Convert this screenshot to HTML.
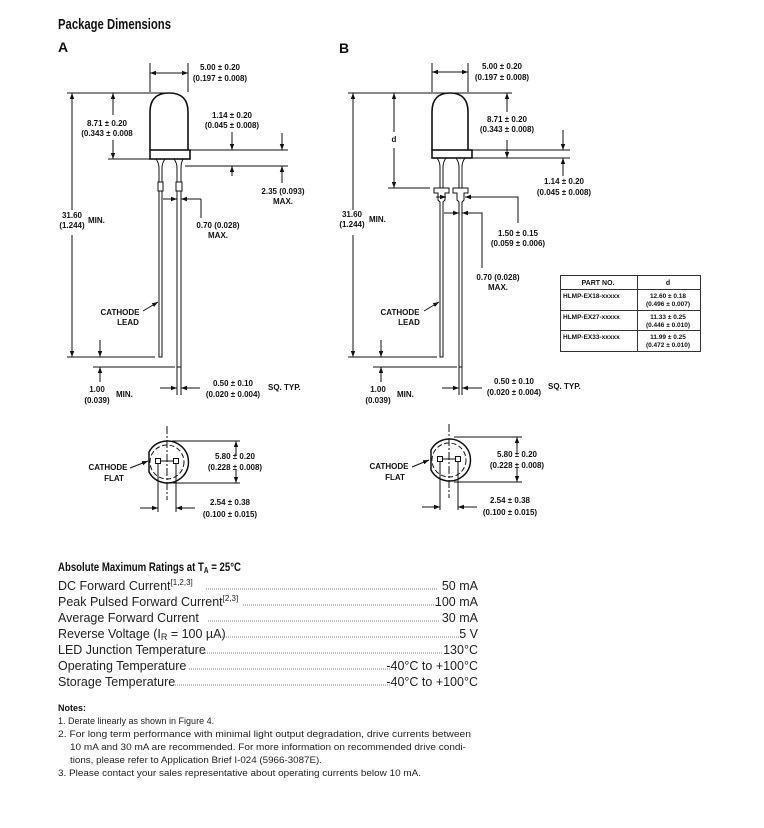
<!DOCTYPE html>
<html><head><meta charset="utf-8"><style>
html,body{margin:0;padding:0;background:#fff;}
svg{display:block}
text{font-family:"Liberation Sans Narrow","Liberation Sans",sans-serif;fill:#111}
.b{font-weight:bold;font-size:8px}
.r{font-family:"Liberation Sans",sans-serif;font-size:12.5px;fill:#222}
.n{font-family:"Liberation Sans",sans-serif;font-size:9px;fill:#222}
</style></head><body>
<svg width="764" height="828" viewBox="0 0 764 828" xmlns="http://www.w3.org/2000/svg">
<defs>
<marker id="a" markerWidth="6" markerHeight="6" refX="6" refY="3" orient="auto" markerUnits="userSpaceOnUse"><path d="M0,0.8 L6,3 L0,5.2z" fill="#111"/></marker>
</defs>
<text x="58" y="29" font-weight="bold" font-size="15" textLength="113" lengthAdjust="spacingAndGlyphs">Package Dimensions</text>
<text x="58" y="52" font-weight="bold" font-size="14">A</text>
<text x="339" y="53" font-weight="bold" font-size="14">B</text>

<g stroke="#111" stroke-width="1" fill="none">
<!-- ===== A ===== -->
<path d="M150,150 L150,112 Q150,93 169,93 Q188,93 188,112 L188,150" stroke-width="1.6"/>
<rect x="150" y="150" width="40" height="9" stroke-width="1.6"/>
<path d="M156,159 Q159,163 159,168 L159,182 M165,159 Q162,163 162,168 L162,182"/>
<rect x="158" y="182" width="5" height="9"/>
<path d="M159,191 L159,357 L162,357 L162,191"/>
<path d="M174,159 Q177,163 177,168 L177,182 M183,159 Q181,163 181,168 L181,182"/>
<rect x="176" y="182" width="6" height="9"/>
<path d="M177,191 L177,367 L181,367 L181,191"/>
<!-- ext lines -->
<path d="M150,63 L150,92 M188,63 L188,92"/>
<line x1="67" y1="93" x2="165" y2="93"/>
<line x1="67" y1="357" x2="155" y2="357"/>
<line x1="108" y1="159" x2="150" y2="159"/>
<line x1="190" y1="150" x2="288" y2="150"/>
<line x1="185" y1="166" x2="288" y2="166"/>
<line x1="93" y1="367" x2="175" y2="367"/>
<path d="M177,367 L177,395 M181,367 L181,395"/>
</g>
<g stroke="#111" stroke-width="1" fill="none" marker-end="url(#a)">
<line x1="169" y1="73" x2="150" y2="73"/><line x1="169" y1="73" x2="188" y2="73"/>
<line x1="72" y1="210" x2="72" y2="93"/><line x1="72" y1="235" x2="72" y2="357"/>
<line x1="113" y1="115" x2="113" y2="93"/><line x1="113" y1="140" x2="113" y2="159"/>
<line x1="232" y1="132" x2="232" y2="150"/><line x1="232" y1="176" x2="232" y2="166"/>
<line x1="282" y1="133" x2="282" y2="150"/><line x1="282" y1="183" x2="282" y2="166"/>
<line x1="163" y1="199" x2="177" y2="199"/><line x1="201" y1="199" x2="181" y2="199"/>
<line x1="100" y1="340" x2="100" y2="357"/><line x1="100" y1="382" x2="100" y2="367"/>
<line x1="160" y1="388" x2="177" y2="388"/><line x1="200" y1="388" x2="181" y2="388"/>
<line x1="143" y1="311" x2="158" y2="302"/>
</g>
<line x1="201" y1="199" x2="201" y2="218" stroke="#111"/>

<!-- ===== B ===== -->
<g stroke="#111" stroke-width="1" fill="none">
<path d="M432,150 L432,112 Q432,93 450,93 Q468,93 468,112 L468,150" stroke-width="1.6"/>
<rect x="432" y="150" width="40" height="8" stroke-width="1.6"/>
<path d="M437,158 Q440,162 440,167 L440,188 M446,158 Q443,162 443,167 L443,188"/>
<path d="M456,158 Q459,162 459,167 L459,188 M465,158 Q462,162 462,167 L462,188"/>
<path d="M434,188 L449,188 L449,193 L445,193 L445,200 L443,202 L443,357 L440,357 L440,202 L438,200 L438,193 L434,193 Z"/>
<path d="M453,188 L468,188 L468,193 L464,193 L464,200 L462,202 L462,367 L459,367 L459,202 L457,200 L457,193 L453,193 Z"/>
<path d="M432,63 L432,92 M468,63 L468,92"/>
<line x1="348" y1="93" x2="512" y2="93"/>
<line x1="348" y1="357" x2="437" y2="357"/>
<line x1="388" y1="188" x2="430" y2="188"/>
<line x1="472" y1="150" x2="570" y2="150"/>
<line x1="472" y1="158" x2="570" y2="158"/>
<line x1="373" y1="367" x2="457" y2="367"/>
<path d="M459,367 L459,395 M462,367 L462,395"/>
<path d="M470,197 L518,197 L518,223"/>
<path d="M466,213 L482,213 L482,268"/>
</g>
<g stroke="#111" stroke-width="1" fill="none" marker-end="url(#a)">
<line x1="450" y1="72" x2="432" y2="72"/><line x1="450" y1="72" x2="468" y2="72"/>
<line x1="353" y1="210" x2="353" y2="93"/><line x1="353" y1="235" x2="353" y2="357"/>
<line x1="394" y1="132" x2="394" y2="93"/><line x1="394" y1="148" x2="394" y2="188"/>
<line x1="507" y1="112" x2="507" y2="93"/><line x1="507" y1="140" x2="507" y2="158"/>
<line x1="563" y1="130" x2="563" y2="150"/><line x1="563" y1="176" x2="563" y2="158"/>
<line x1="436" y1="197" x2="446" y2="197"/><line x1="470" y1="197" x2="465" y2="197"/>
<line x1="444" y1="213" x2="459" y2="213"/><line x1="466" y1="213" x2="462" y2="213"/>
<line x1="381" y1="340" x2="381" y2="357"/><line x1="381" y1="382" x2="381" y2="367"/>
<line x1="442" y1="388" x2="459" y2="388"/><line x1="482" y1="388" x2="462" y2="388"/>
<line x1="424" y1="311" x2="439" y2="302"/>
</g>

<!-- bottom views -->
<g stroke="#111" stroke-width="1" fill="none">
<path d="M149,452 A21,21 0 1 1 149,472 Z" stroke-width="1.5"/>
<circle cx="167" cy="462" r="17" stroke-dasharray="5,2.5"/>
<line x1="167" y1="426" x2="167" y2="500" stroke-dasharray="8,2,2,2"/>
<rect x="155.5" y="458.5" width="5" height="5"/><rect x="173.5" y="458.5" width="5" height="5"/>
<line x1="160" y1="461" x2="173" y2="461"/>
<line x1="172" y1="441" x2="240" y2="441"/><line x1="172" y1="483" x2="240" y2="483"/>
<path d="M158,464 L158,512 M176,464 L176,512"/>
<path d="M431,450 A21,21 0 1 1 431,470 Z" stroke-width="1.5"/>
<circle cx="449" cy="460" r="17" stroke-dasharray="5,2.5"/>
<line x1="449" y1="424" x2="449" y2="498" stroke-dasharray="8,2,2,2"/>
<rect x="437.5" y="456.5" width="5" height="5"/><rect x="455.5" y="456.5" width="5" height="5"/>
<line x1="442" y1="459" x2="455" y2="459"/>
<line x1="454" y1="437" x2="522" y2="437"/><line x1="454" y1="482" x2="522" y2="482"/>
<path d="M440,462 L440,510 M458,462 L458,510"/>
</g>
<g stroke="#111" stroke-width="1" fill="none" marker-end="url(#a)">
<line x1="236" y1="455" x2="236" y2="441"/><line x1="236" y1="470" x2="236" y2="483"/>
<line x1="140" y1="508" x2="158" y2="508"/><line x1="195" y1="508" x2="176" y2="508"/>
<line x1="130" y1="468" x2="148" y2="461"/>
<line x1="517" y1="452" x2="517" y2="437"/><line x1="517" y1="468" x2="517" y2="482"/>
<line x1="422" y1="507" x2="440" y2="507"/><line x1="477" y1="507" x2="458" y2="507"/>
<line x1="412" y1="467" x2="429" y2="460"/>
</g>

<!-- table -->
<g stroke="#333" stroke-width="1" fill="none">
<rect x="560.5" y="275.5" width="140" height="76"/>
<line x1="560" y1="289.5" x2="700" y2="289.5"/>
<line x1="560" y1="310.5" x2="700" y2="310.5"/>
<line x1="560" y1="330.5" x2="700" y2="330.5"/>
<line x1="637.5" y1="275" x2="637.5" y2="351"/>
</g>
<g class="b" font-size="6.5" style="font-size:6.5px">
<text x="598" y="285" text-anchor="middle" class="b" style="font-size:7px">PART NO.</text>
<text x="668" y="285" text-anchor="middle" class="b" style="font-size:7px">d</text>
<text x="563" y="298" class="b" style="font-size:6.5px">HLMP-EX18-xxxxx</text>
<text x="563" y="319" class="b" style="font-size:6.5px">HLMP-EX27-xxxxx</text>
<text x="563" y="339" class="b" style="font-size:6.5px">HLMP-EX33-xxxxx</text>
<text x="668" y="298" text-anchor="middle" class="b" style="font-size:6.5px">12.60 ± 0.18</text>
<text x="668" y="306" text-anchor="middle" class="b" style="font-size:6.5px">(0.496 ± 0.007)</text>
<text x="668" y="319" text-anchor="middle" class="b" style="font-size:6.5px">11.33 ± 0.25</text>
<text x="668" y="327" text-anchor="middle" class="b" style="font-size:6.5px">(0.446 ± 0.010)</text>
<text x="668" y="339" text-anchor="middle" class="b" style="font-size:6.5px">11.99 ± 0.25</text>
<text x="668" y="347" text-anchor="middle" class="b" style="font-size:6.5px">(0.472 ± 0.010)</text>
</g>

<!-- labels A -->
<g class="b" text-anchor="middle">
<text x="220" y="70" class="b">5.00 ± 0.20</text><text x="220" y="81" class="b">(0.197 ± 0.008)</text>
<text x="107" y="126" class="b">8.71 ± 0.20</text><text x="107" y="136" class="b">(0.343 ± 0.008</text>
<text x="232" y="118" class="b">1.14 ± 0.20</text><text x="232" y="128" class="b">(0.045 ± 0.008)</text>
<text x="283" y="194" class="b">2.35 (0.093)</text><text x="283" y="204" class="b">MAX.</text>
<text x="72" y="218" class="b">31.60</text><text x="72" y="228" class="b">(1.244)</text>
<text x="218" y="228" class="b">0.70 (0.028)</text><text x="218" y="238" class="b">MAX.</text>
<text x="120" y="315" class="b">CATHODE</text><text x="128" y="325" class="b">LEAD</text>
<text x="97" y="392" class="b">1.00</text><text x="97" y="403" class="b">(0.039)</text>
<text x="233" y="386" class="b">0.50 ± 0.10</text><text x="233" y="397" class="b">(0.020 ± 0.004)</text>
<text x="235" y="459" class="b">5.80 ± 0.20</text><text x="235" y="470" class="b">(0.228 ± 0.008)</text>
<text x="108" y="470" class="b">CATHODE</text><text x="114" y="481" class="b">FLAT</text>
<text x="230" y="505" class="b">2.54 ± 0.38</text><text x="230" y="517" class="b">(0.100 ± 0.015)</text>
</g>
<text x="88" y="223" class="b">MIN.</text>
<text x="116" y="397" class="b">MIN.</text>
<text x="268" y="390" class="b">SQ. TYP.</text>
<!-- labels B -->
<g text-anchor="middle">
<text x="502" y="69" class="b">5.00 ± 0.20</text><text x="502" y="80" class="b">(0.197 ± 0.008)</text>
<text x="394" y="142" class="b">d</text>
<text x="507" y="122" class="b">8.71 ± 0.20</text><text x="507" y="132" class="b">(0.343 ± 0.008)</text>
<text x="564" y="184" class="b">1.14 ± 0.20</text><text x="564" y="195" class="b">(0.045 ± 0.008)</text>
<text x="352" y="217" class="b">31.60</text><text x="352" y="227" class="b">(1.244)</text>
<text x="518" y="236" class="b">1.50 ± 0.15</text><text x="518" y="246" class="b">(0.059 ± 0.006)</text>
<text x="498" y="280" class="b">0.70 (0.028)</text><text x="498" y="290" class="b">MAX.</text>
<text x="400" y="315" class="b">CATHODE</text><text x="409" y="325" class="b">LEAD</text>
<text x="378" y="392" class="b">1.00</text><text x="378" y="403" class="b">(0.039)</text>
<text x="514" y="384" class="b">0.50 ± 0.10</text><text x="514" y="395" class="b">(0.020 ± 0.004)</text>
<text x="517" y="457" class="b">5.80 ± 0.20</text><text x="517" y="468" class="b">(0.228 ± 0.008)</text>
<text x="389" y="469" class="b">CATHODE</text><text x="395" y="480" class="b">FLAT</text>
<text x="510" y="503" class="b">2.54 ± 0.38</text><text x="510" y="515" class="b">(0.100 ± 0.015)</text>
</g>
<text x="369" y="222" class="b">MIN.</text>
<text x="397" y="397" class="b">MIN.</text>
<text x="548" y="389" class="b">SQ. TYP.</text>

<!-- ratings -->
<text x="58" y="571" font-weight="bold" font-size="12" textLength="183" lengthAdjust="spacingAndGlyphs">Absolute Maximum Ratings at T<tspan font-size="8" dy="2">A</tspan><tspan dy="-2"> = 25°C</tspan></text>
<g stroke="#333" stroke-width="0.8" stroke-dasharray="0.8,1.2">
<line x1="206" y1="589" x2="437" y2="589"/>
<line x1="243" y1="605" x2="436" y2="605"/>
<line x1="208" y1="621" x2="440" y2="621"/>
<line x1="218" y1="637" x2="462" y2="637"/>
<line x1="203" y1="653" x2="443" y2="653"/>
<line x1="189" y1="669" x2="390" y2="669"/>
<line x1="175" y1="685" x2="390" y2="685"/>
</g>
<text class="r" x="58" y="590">DC Forward Current<tspan font-size="8" dy="-5">[1,2,3]</tspan></text>
<text class="r" x="58" y="606">Peak Pulsed Forward Current<tspan font-size="8" dy="-5">[2,3]</tspan></text>
<text class="r" x="58" y="622">Average Forward Current</text>
<text class="r" x="58" y="638">Reverse Voltage (I<tspan font-size="9" dy="2">R</tspan><tspan dy="-2"> = 100 µA)</tspan></text>
<text class="r" x="58" y="654">LED Junction Temperature</text>
<text class="r" x="58" y="670">Operating Temperature</text>
<text class="r" x="58" y="686">Storage Temperature</text>
<g text-anchor="end">
<text class="r" x="478" y="590">50 mA</text>
<text class="r" x="478" y="606">100 mA</text>
<text class="r" x="478" y="622">30 mA</text>
<text class="r" x="478" y="638">5 V</text>
<text class="r" x="478" y="654">130°C</text>
<text class="r" x="478" y="670">-40°C to +100°C</text>
<text class="r" x="478" y="686">-40°C to +100°C</text>
</g>
<text x="58" y="711" font-weight="bold" font-size="9">Notes:</text>
<text class="n" x="58" y="724">1.  Derate linearly as shown in Figure 4.</text>
<text class="n" x="58" y="737" textLength="413" lengthAdjust="spacingAndGlyphs">2.  For long term performance with minimal light output degradation, drive currents between</text>
<text class="n" x="70" y="750" textLength="396" lengthAdjust="spacingAndGlyphs">10 mA and 30 mA are recommended. For more information on recommended drive condi-</text>
<text class="n" x="70" y="763" textLength="252" lengthAdjust="spacingAndGlyphs">tions, please refer to Application Brief I-024 (5966-3087E).</text>
<text class="n" x="58" y="776" textLength="363" lengthAdjust="spacingAndGlyphs">3.  Please contact your sales representative about operating currents below 10 mA.</text>
</svg>
</body></html>
